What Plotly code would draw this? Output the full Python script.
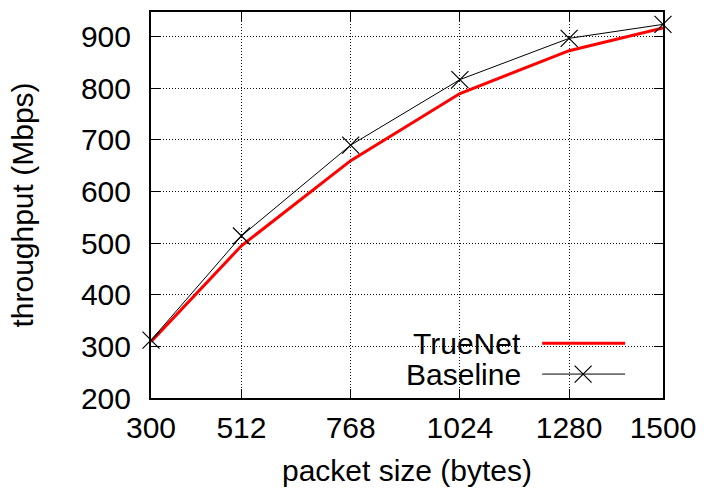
import plotly.graph_objects as go

packet_sizes = [300, 512, 768, 1024, 1280, 1500]
truenet = [309, 495, 660, 790, 873, 917]
baseline = [312, 514, 690, 817, 897, 924]
y_ticks = [200, 300, 400, 500, 600, 700, 800, 900]

FONT = "Liberation Sans, Arial, sans-serif"
FS = 30

fig = go.Figure()
fig.add_trace(go.Scatter(x=packet_sizes, y=truenet, mode="lines", name="TrueNet",
                         line=dict(color="#ff0000", width=3), showlegend=False,
                         cliponaxis=False))
fig.add_trace(go.Scatter(x=packet_sizes, y=baseline, mode="lines+markers", name="Baseline",
                         line=dict(color="black", width=1),
                         marker=dict(symbol="x-thin-open", size=17, color="black",
                                     line=dict(color="black", width=1.2)),
                         showlegend=False, cliponaxis=False))

# manual gnuplot-style legend (text left, sample right)
lx0, lx1, lxm = 0.764, 0.926, 0.844
ly_t, ly_b = 0.142, 0.062
fig.add_trace(go.Scatter(x=[lx0, lx1], y=[ly_t, ly_t], mode="lines", xaxis="x2", yaxis="y2",
                         line=dict(color="#ff0000", width=3), showlegend=False, hoverinfo="skip"))
fig.add_trace(go.Scatter(x=[lx0, lx1], y=[ly_b, ly_b], mode="lines", xaxis="x2", yaxis="y2",
                         line=dict(color="black", width=1), showlegend=False, hoverinfo="skip"))
fig.add_trace(go.Scatter(x=[lxm], y=[ly_b], mode="markers", xaxis="x2", yaxis="y2",
                         marker=dict(symbol="x-thin-open", size=17, color="black",
                                     line=dict(color="black", width=1.2)),
                         showlegend=False, hoverinfo="skip"))
for txt, yy in (("TrueNet", ly_t), ("Baseline", ly_b)):
    fig.add_annotation(text=txt, x=0.727, y=yy, xref="paper", yref="paper",
                       xanchor="right", yanchor="middle", showarrow=False,
                       font=dict(family=FONT, size=FS, color="black"))

axis_common = dict(
    showline=True, linecolor="black", linewidth=2, mirror="ticks",
    ticks="inside", ticklen=9, tickwidth=1, tickcolor="black",
    showgrid=True, gridcolor="#111111", gridwidth=1, griddash="1px,2px",
    zeroline=False, tickfont=dict(family=FONT, size=FS, color="black"),
    automargin=False,
)

fig.update_layout(
    width=704, height=491,
    margin=dict(l=151, r=41, t=12, b=93),
    paper_bgcolor="white", plot_bgcolor="white",
    font=dict(family=FONT, size=FS, color="black"),
    xaxis=dict(range=[300, 1500], tickvals=packet_sizes,
               ticktext=[str(v) for v in packet_sizes],
               title=dict(text="packet size (bytes)", standoff=17,
                          font=dict(family=FONT, size=FS)),
               ticklabelstandoff=2, **axis_common),
    yaxis=dict(range=[200, 948], tickvals=y_ticks,
               title=dict(text="throughput (Mbps)", standoff=38,
                          font=dict(family=FONT, size=FS)),
               ticklabelstandoff=12, **axis_common),
    xaxis2=dict(range=[0, 1], overlaying="x", visible=False, fixedrange=True),
    yaxis2=dict(range=[0, 1], overlaying="y", visible=False, fixedrange=True),
    showlegend=False,
)

fig.write_html("out.html")
